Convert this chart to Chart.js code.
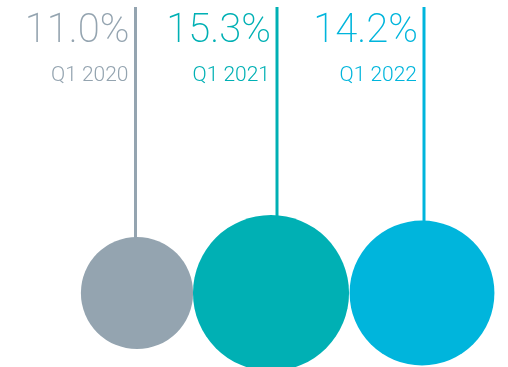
<!DOCTYPE html>
<html>
<head>
<meta charset="utf-8">
<script src="https://cdn.jsdelivr.net/npm/chart.js@4"></script>
<style>
    html, body { margin: 0; padding: 0; background: #fff; }
    .wrap { width: 508px; height: 367px; position: relative; }
</style>
</head>
<body>
<div class="wrap"><canvas class="bubbles"></canvas></div>
<script>
// data
const periods = ['Q1 2020', 'Q1 2021', 'Q1 2022']
const rates   = [11.0, 15.3, 14.2]
const centers = [137, 271, 422]
const hangers = [135.5, 277, 424]
const colors  = ['#94a4b0', '#00b0b4', '#00b5dc']

const RADIUS_PER_POINT = 5.1
const BASE_Y           = 293

const hangPlugin = {
    id: 'hang',
    afterDatasetsDraw(chart) {
        let ctx = chart.ctx
        let x   = chart.scales.x
        let y   = chart.scales.y

        ctx.save()
        rates.forEach((rate, i) => {
            let lx  = x.getPixelForValue(hangers[i])
            let top = y.getPixelForValue(BASE_Y) - rate * RADIUS_PER_POINT

            ctx.strokeStyle = colors[i]
            ctx.lineWidth   = 3
            ctx.beginPath()
            ctx.moveTo(lx, 7)
            ctx.lineTo(lx, top + 2)
            ctx.stroke()

            ctx.fillStyle    = colors[i]
            ctx.textAlign    = 'right'
            ctx.textBaseline = 'alphabetic'
            ctx.font         = '200 40px Roboto'
            ctx.fillText(rate.toFixed(1) + '%', lx - 6, 42)
            ctx.font         = '300 21px Roboto'
            ctx.fillText(periods[i], lx - 7, 81)
        })
        ctx.restore()
    }
}

new Chart(document.querySelector('.bubbles').getContext('2d'), {
    type: 'bubble',
    data: {
        datasets: [{
            data: rates.map((rate, i) => ({ x: centers[i], y: BASE_Y, r: rate * RADIUS_PER_POINT })),
            backgroundColor: colors,
            borderWidth: 0,
            hoverRadius: 0
        }]
    },
    options: {
        responsive: true,
        maintainAspectRatio: false,
        animation: false,
        layout: { padding: 0, autoPadding: false },
        clip: false,
        plugins: { legend: { display: false }, tooltip: { enabled: false } },
        scales: {
            x: { type: 'linear', min: 0, max: 508, display: false },
            y: { type: 'linear', min: 0, max: 367, reverse: true, display: false }
        }
    },
    plugins: [hangPlugin]
})
</script>
</body>
</html>
